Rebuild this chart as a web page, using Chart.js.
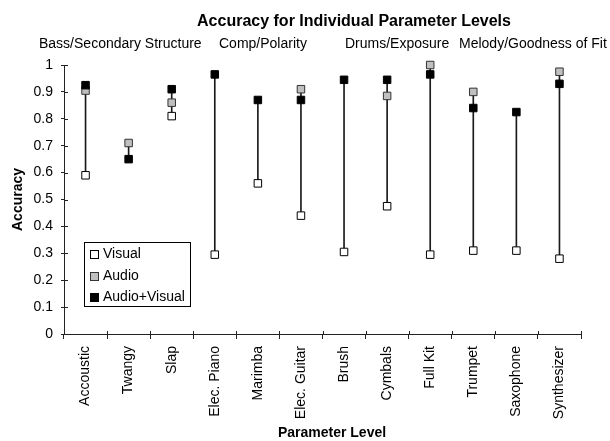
<!DOCTYPE html>
<html>
<head>
<meta charset="utf-8">
<script src="https://cdn.jsdelivr.net/npm/chart.js@4.4.1/dist/chart.umd.min.js"></script>
<style>
  html, body { margin: 0; padding: 0; background: #fff; }
  canvas { display: block; }
</style>
</head>
<body>
<canvas id="chart" width="610" height="441"></canvas>
<script>
// Parameter levels on the x axis
const levels = ['Accoustic', 'Twangy', 'Slap', 'Elec. Piano', 'Marimba', 'Elec. Guitar',
                'Brush', 'Cymbals', 'Full Kit', 'Trumpet', 'Saxophone', 'Synthesizer'];

// Accuracy per condition (null = no value for that level)
const visual      = [0.59, null, 0.81, 0.295, 0.56, 0.44, 0.305, 0.475, 0.295, 0.31, 0.31, 0.28];
const audio       = [0.905, 0.71, 0.86, null, null, 0.91, null, 0.885, 1.0, 0.90, null, 0.975];
const audioVisual = [0.925, 0.65, 0.91, 0.965, 0.87, 0.87, 0.945, 0.945, 0.965, 0.84, 0.825, 0.93];

// Parameter groups written above the plot
const groupNames = ['Bass/Secondary Structure', 'Comp/Polarity', 'Drums/Exposure', 'Melody/Goodness of Fit'];

// Y axis tick values
const accuracyTicks = [0, 0.1, 0.2, 0.3, 0.4, 0.5, 0.6, 0.7, 0.8, 0.9, 1];

const FONT = '"Liberation Sans", Arial, sans-serif';
Chart.defaults.font.family = FONT;
Chart.defaults.color = '#000';

// high-low span per level, from the lowest to the highest available value
const spans = levels.map((_, i) => {
  const vals = [visual[i], audio[i], audioVisual[i]].filter(v => v !== null);
  return [Math.min(...vals), Math.max(...vals)];
});

const seriesStyles = [
  { label: 'Audio+Visual', data: audioVisual, fill: '#000000', stroke: '#000000' },
  { label: 'Audio',        data: audio,       fill: '#c0c0c0', stroke: '#333333' },
  { label: 'Visual',       data: visual,      fill: '#ffffff', stroke: '#000000' }
];

const pointDatasets = seriesStyles.map((s, k) => ({
  type: 'line',
  label: s.label,
  data: s.data,
  showLine: false,
  clip: false,
  pointStyle: 'rect',
  pointRadius: 5.3,
  pointHoverRadius: 5.3,
  pointBackgroundColor: s.fill,
  pointBorderColor: s.stroke,
  pointBorderWidth: 1,
  order: k
}));

const spanDataset = {
  type: 'bar',
  label: 'range',
  data: spans,
  clip: false,
  backgroundColor: '#1a1a1a',
  borderWidth: 0,
  barThickness: 1,
  order: 10
};

// Titles, group captions, axis titles, cross ticks and the legend box
const decorations = {
  id: 'decorations',
  afterDraw(chart) {
    const ctx = chart.ctx;
    const xs = chart.scales.x, ys = chart.scales.y;
    ctx.save();
    ctx.fillStyle = '#000';
    ctx.strokeStyle = '#222';
    ctx.lineWidth = 1;

    // inner halves of the tick marks
    ctx.beginPath();
    accuracyTicks.forEach(v => {
      const y = Math.round(ys.getPixelForValue(v)) + 0.5;
      ctx.moveTo(xs.left, y);
      ctx.lineTo(xs.left + 4, y);
    });
    for (let i = 0; i <= levels.length; i++) {
      const x = Math.round(xs.getPixelForValue(i - 0.5)) + 0.5;
      ctx.moveTo(x, ys.bottom);
      ctx.lineTo(x, ys.bottom - 3);
    }
    ctx.stroke();

    // chart title
    ctx.font = 'bold 16px ' + FONT;
    ctx.textAlign = 'center';
    ctx.textBaseline = 'alphabetic';
    ctx.fillText('Accuracy for Individual Parameter Levels', 354, 26);

    // group captions
    ctx.font = '14px ' + FONT;
    ctx.textAlign = 'left';
    const groupX = [39, 219, 345, 459];
    groupNames.forEach((g, i) => ctx.fillText(g, groupX[i], 48));

    // axis titles
    ctx.font = 'bold 14px ' + FONT;
    ctx.textAlign = 'center';
    ctx.textBaseline = 'middle';
    ctx.fillText('Parameter Level', 332, 433);
    ctx.save();
    ctx.translate(18, (ys.top + ys.bottom) / 2);
    ctx.rotate(-Math.PI / 2);
    ctx.fillText('Accuracy', 0, 0);
    ctx.restore();

    // legend
    const lx = 84.5, ly = 242.5, lw = 106, lh = 64;
    ctx.fillStyle = '#fff';
    ctx.fillRect(lx, ly, lw, lh);
    ctx.strokeStyle = '#000';
    ctx.strokeRect(lx, ly, lw, lh);
    const legendOrder = [seriesStyles[2], seriesStyles[1], seriesStyles[0]];
    const rowY = [254, 275.5, 296.5];
    ctx.font = '14px ' + FONT;
    ctx.textAlign = 'left';
    ctx.textBaseline = 'middle';
    legendOrder.forEach((s, i) => {
      const cy = Math.round(rowY[i]);
      ctx.fillStyle = s.fill;
      ctx.fillRect(90.5, cy - 3.5, 8, 8);
      ctx.strokeStyle = s.stroke;
      ctx.strokeRect(90.5, cy - 3.5, 8, 8);
      ctx.fillStyle = '#000';
      ctx.fillText(s.label, 103, rowY[i] + 0.5);
    });
    ctx.restore();
  }
};

new Chart(document.getElementById('chart'), {
  type: 'bar',
  data: {
    labels: levels,
    datasets: [...pointDatasets, spanDataset]
  },
  options: {
    responsive: false,
    animation: false,
    layout: { padding: { top: 65, right: 29, left: 0, bottom: 0 } },
    plugins: {
      legend: { display: false },
      title: { display: false },
      tooltip: { enabled: false }
    },
    scales: {
      x: {
        type: 'category',
        offset: true,
        afterFit(s) { s.height = 107; },
        grid: {
          offset: true,
          drawOnChartArea: false,
          drawTicks: true,
          tickLength: 5,
          color: '#222'
        },
        border: { display: true, color: '#222', width: 1 },
        ticks: {
          minRotation: 90,
          maxRotation: 90,
          autoSkip: false,
          padding: 7,
          font: { size: 14 },
          color: '#000'
        }
      },
      y: {
        min: 0,
        max: 1,
        afterFit(s) { s.width = 64; },
        afterBuildTicks(s) { s.ticks = accuracyTicks.map(v => ({ value: v })); },
        grid: {
          drawOnChartArea: false,
          drawTicks: true,
          tickLength: 3,
          color: '#222'
        },
        border: { display: true, color: '#222', width: 1 },
        ticks: {
          padding: 8,
          font: { size: 14 },
          color: '#000',
          callback: v => String(+v.toFixed(1))
        }
      }
    }
  },
  plugins: [decorations]
});
</script>
</body>
</html>
